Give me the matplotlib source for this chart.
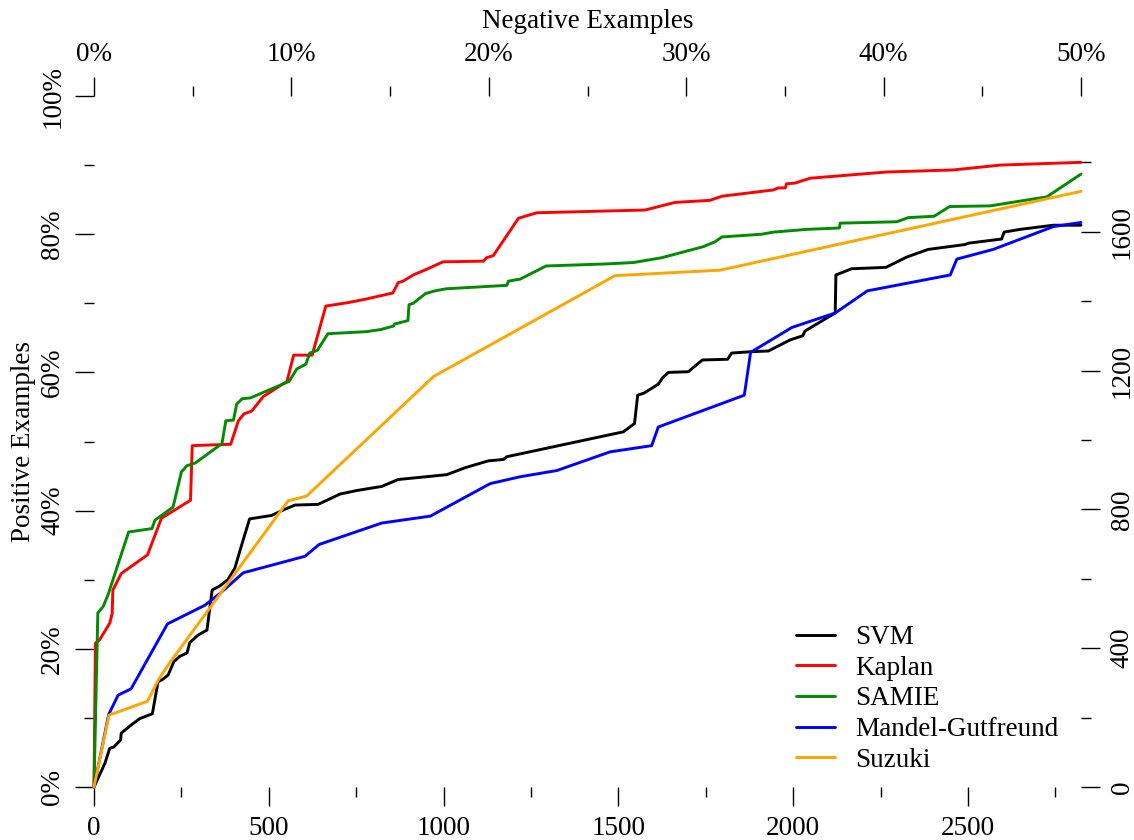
import matplotlib
matplotlib.use("Agg")
import matplotlib.pyplot as plt

plt.rcParams['font.family'] = ['Liberation Serif', 'DejaVu Serif']
plt.rcParams['font.size'] = 19.5

# totals (negatives on x, positives on y)
n_neg = 5646
n_pos = 1991

svm_x = [0, 31, 45, 57, 76, 78, 107, 131, 167, 183, 197, 212, 228, 245, 266, 274, 298, 323,
         338, 360, 383, 403, 421, 445, 508, 546, 575, 641, 704, 751, 823, 870, 1009, 1061,
         1128, 1171, 1181, 1514, 1546, 1555, 1573, 1614, 1626, 1643, 1700, 1740, 1812, 1824,
         1881, 1929, 1991, 2027, 2034, 2120, 2122, 2167, 2265, 2325, 2386, 2491, 2501, 2596,
         2603, 2649, 2744, 2823]
svm_y = [0, 3.4, 5.6, 5.8, 6.8, 7.8, 9.0, 9.9, 10.6, 15.2, 15.6, 16.2, 18.1, 18.9, 19.4, 20.9,
         22.0, 22.7, 28.5, 29.1, 30.0, 31.7, 34.8, 38.8, 39.3, 40.2, 40.8, 40.9, 42.4, 42.9,
         43.5, 44.5, 45.2, 46.2, 47.2, 47.4, 47.8, 51.4, 52.6, 56.7, 57.0, 58.3, 59.2, 60.0,
         60.1, 61.8, 61.9, 62.8, 63.0, 63.1, 64.7, 65.3, 66.0, 68.6, 74.1, 75.0, 75.2, 76.7,
         77.8, 78.5, 78.7, 79.3, 80.3, 80.7, 81.3, 81.3]

kaplan_x = [0, 4, 16, 45, 52, 54, 78, 153, 193, 276, 281, 391, 413, 429, 451, 484, 552, 571,
            624, 663, 727, 777, 855, 870, 884, 913, 946, 998, 1114, 1123, 1142, 1214, 1266,
            1576, 1662, 1762, 1796, 1943, 1957, 1977, 1981, 2005, 2048, 2267, 2458, 2592, 2823]
kaplan_y = [0, 20.8, 21.3, 23.7, 25.1, 28.5, 30.9, 33.6, 38.9, 41.5, 49.4, 49.6, 53.0, 54.0,
            54.4, 56.5, 58.7, 62.5, 62.5, 69.6, 70.1, 70.6, 71.5, 73.0, 73.2, 74.1, 74.8, 76.0,
            76.1, 76.6, 76.9, 82.3, 83.1, 83.5, 84.6, 84.9, 85.5, 86.4, 86.7, 86.7, 87.3, 87.4,
            88.1, 89.0, 89.3, 90.0, 90.4]

samie_x = [0, 11, 26, 40, 99, 166, 174, 226, 250, 266, 290, 366, 377, 399, 408, 424, 447, 558,
           580, 606, 617, 639, 669, 780, 820, 856, 860, 898, 901, 913, 948, 975, 1007, 1181,
           1185, 1219, 1293, 1467, 1543, 1624, 1743, 1776, 1796, 1910, 1943, 2039, 2132, 2134,
           2296, 2329, 2403, 2447, 2563, 2725, 2823]
samie_y = [0, 25.2, 26.1, 27.8, 36.9, 37.4, 38.6, 40.5, 45.6, 46.5, 46.9, 49.7, 53.0, 53.1,
           55.4, 56.2, 56.3, 58.7, 60.5, 61.2, 62.8, 63.2, 65.6, 65.9, 66.2, 66.7, 67.0, 67.5,
           69.8, 70.0, 71.4, 71.8, 72.1, 72.6, 73.2, 73.5, 75.4, 75.7, 75.9, 76.6, 78.2, 78.9,
           79.6, 80.0, 80.3, 80.7, 80.9, 81.6, 81.8, 82.4, 82.6, 84.0, 84.1, 85.4, 88.7]

mandel_x = [0, 42, 69, 106, 210, 317, 360, 427, 604, 644, 823, 962, 1133, 1219, 1324, 1476,
            1595, 1614, 1860, 1878, 1996, 2120, 2212, 2449, 2468, 2572, 2744, 2823]
mandel_y = [0, 10.5, 13.3, 14.2, 23.6, 26.3, 28.0, 31.0, 33.4, 35.1, 38.2, 39.2, 43.9, 44.9,
            45.8, 48.5, 49.4, 52.1, 56.7, 62.9, 66.5, 68.6, 71.8, 74.1, 76.4, 77.8, 81.1, 81.7]

suzuki_x = [0, 43, 153, 184, 217, 555, 608, 971, 1490, 1791, 2823]
suzuki_y = [0, 10.4, 12.4, 15.5, 18.0, 41.4, 42.1, 59.4, 74.0, 74.8, 86.2]

series = [
    ("SVM", svm_x, svm_y, "black"),
    ("Kaplan", kaplan_x, kaplan_y, "red"),
    ("SAMIE", samie_x, samie_y, "#008B00"),
    ("Mandel-Gutfreund", mandel_x, mandel_y, "blue"),
    ("Suzuki", suzuki_x, suzuki_y, "orange"),
]

fig = plt.figure(figsize=(11.34, 8.4), dpi=100)
ax = fig.add_axes([94 / 1134, 53 / 840, 987 / 1134, 691 / 840])

for name, xs, ys, col in series:
    ax.plot(xs, ys, color=col, lw=2.1, label=name, clip_on=False,
            solid_joinstyle='round', solid_capstyle='round')

ax.set_xlim(0, n_neg / 2)
ax.set_ylim(0, 100)

top = ax.secondary_xaxis('top', functions=(lambda x: x * 100 / n_neg, lambda p: p * n_neg / 100))
right = ax.secondary_yaxis('right', functions=(lambda p: p * n_pos / 100, lambda c: c * 100 / n_pos))

for a in (ax, top, right):
    for s in a.spines.values():
        s.set_visible(False)
    a.tick_params(which='major', length=13.7, width=1, direction='out', pad=7)
    a.tick_params(which='minor', length=7.2, width=1, direction='out')

ax.set_xticks(range(0, 2501, 500))
ax.set_xticks(range(250, 2751, 500), minor=True)
ax.set_yticks(range(0, 101, 20), [f"{v}%" for v in range(0, 101, 20)])
ax.set_yticks(range(10, 100, 20), minor=True)
top.set_xticks(range(0, 51, 10), [f"{v}%" for v in range(0, 51, 10)])
top.set_xticks(range(5, 50, 10), minor=True)
right.set_yticks(range(0, 1601, 400))
right.set_yticks(range(200, 1801, 400), minor=True)

for a in (ax, right):
    a.tick_params(axis='y', which='major', labelrotation=90)
    for lab in a.get_yticklabels():
        lab.set_verticalalignment('center')

ax.set_ylabel("Positive Examples", labelpad=3)
top.set_xlabel("Negative Examples", labelpad=10)

ax.legend(loc='upper left', bbox_to_anchor=(796 / 1134, 1 - 625 / 840),
          bbox_transform=fig.transFigure, frameon=False, handlelength=1.45,
          handletextpad=0.75, labelspacing=0.21, borderpad=0, borderaxespad=0)

fig.savefig("out.png", dpi=100)
